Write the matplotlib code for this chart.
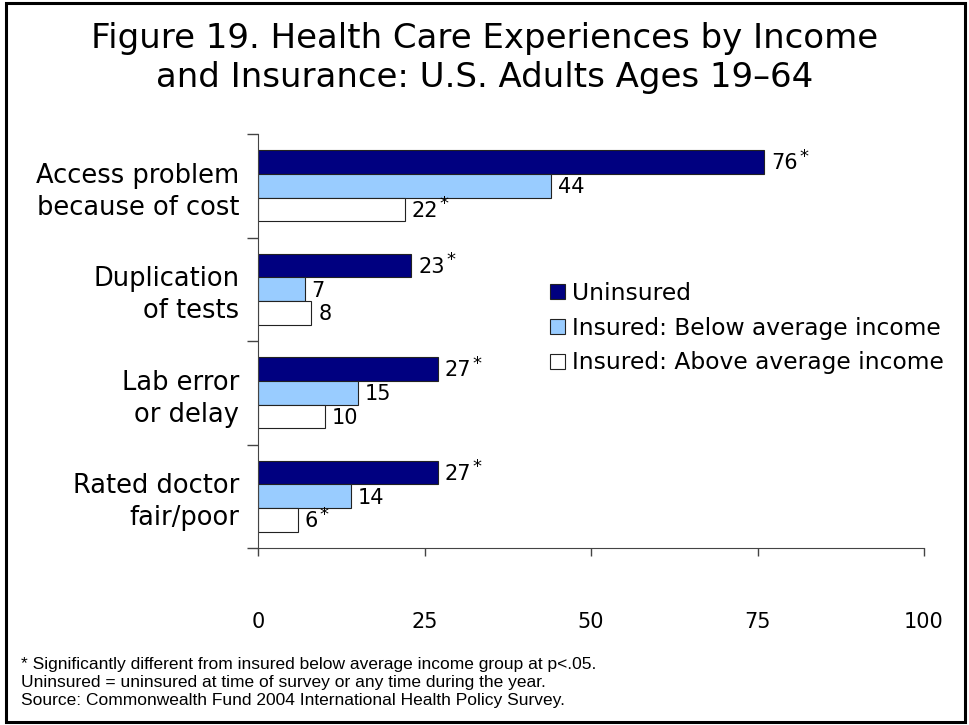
import numpy as np
import matplotlib
matplotlib.use("Agg")
from matplotlib import pyplot as plt
from matplotlib.patches import Rectangle

categories = ["Access problem\nbecause of cost", "Duplication\nof tests",
              "Lab error\nor delay", "Rated doctor\nfair/poor"]
series_names = ["Uninsured", "Insured: Below average income",
                "Insured: Above average income"]
uninsured = [76, 23, 27, 27]
insured_below = [44, 7, 15, 14]
insured_above = [22, 8, 10, 6]
# significance flags (*) for each series
star_uninsured = [True, True, True, True]
star_below = [False, False, False, False]
star_above = [True, False, False, True]
xticks = [0, 25, 50, 75, 100]

values = [uninsured, insured_below, insured_above]
stars = [star_uninsured, star_below, star_above]
colors = ["#000080", "#99CCFF", "#FFFFFF"]

fig = plt.figure(figsize=(9.69, 7.25), dpi=100)
fig.patches.append(Rectangle((0.006, 0.004), 0.99, 0.992, transform=fig.transFigure,
                             fill=False, edgecolor="black", linewidth=2.2))

ax = fig.add_axes([258 / 969, 1 - 548 / 725, (924 - 258) / 969, (548 - 134) / 725])

n = len(categories)
bar_h = 0.23
centers = np.arange(n)[::-1] + 0.5
for s, (vals, col) in enumerate(zip(values, colors)):
    ys = centers + (1 - s) * bar_h
    ax.barh(ys, vals, height=bar_h, color=col, edgecolor="#222222", linewidth=0.8,
            label=series_names[s])
    for y, v, st in zip(ys, vals, stars[s]):
        t = ax.annotate(str(v), xy=(v, y), xytext=(5, -1), textcoords="offset points",
                        ha="left", va="center", fontsize=15, color="black")
        if st:
            ax.annotate("*", xy=(1, 1), xycoords=t, xytext=(1, 4),
                        textcoords="offset points", ha="left", va="top",
                        fontsize=13, color="black")

ax.set_xlim(0, 100)
ax.set_ylim(0, n)
ax.set_xticks(xticks)
ax.set_xticklabels([str(x) for x in xticks], fontsize=15)
ax.tick_params(axis="x", direction="out", length=6, width=1, pad=40, color="#444444")
ax.set_yticks(centers)
ax.set_yticklabels(categories, fontsize=18.5, linespacing=1.3, ha="right")
ax.tick_params(axis="y", which="major", length=0, pad=13.5)
ax.set_yticks(np.arange(n + 1), minor=True)
ax.tick_params(axis="y", which="minor", direction="out", length=8, width=1, color="#444444")
for side in ["top", "right"]:
    ax.spines[side].set_visible(False)
for side in ["left", "bottom"]:
    ax.spines[side].set_color("#444444")

ax.legend(loc="upper left", bbox_to_anchor=(0.425, 0.665), frameon=False, fontsize=16.8,
          handlelength=0.62, handleheight=0.62, handletextpad=0.3, labelspacing=0.5,
          borderaxespad=0)

fig.text(0.5, 0.92, "Figure 19. Health Care Experiences by Income\nand Insurance: U.S. Adults Ages 19\u201364",
         ha="center", va="center", fontsize=24.5, linespacing=1.22)

notes = ["* Significantly different from insured below average income group at p<.05.",
         "Uninsured = uninsured at time of survey or any time during the year.",
         "Source: Commonwealth Fund 2004 International Health Policy Survey."]
for i, line in enumerate(notes):
    fig.text(21 / 969, 1 - (664 + 18.5 * i) / 725, line, ha="left", va="center",
             fontsize=12.5, family="Liberation Sans")

fig.savefig("out.png", dpi=100)
